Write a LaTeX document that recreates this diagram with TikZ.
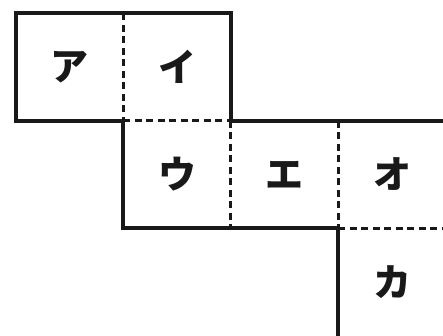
\documentclass[tikz,border=0pt]{standalone}
\usepackage{fontspec}
\newfontfamily\jp{Noto Sans CJK JP}
\usetikzlibrary{positioning}
\definecolor{ink}{RGB}{25,25,25}
\tikzset{
  cell/.style={minimum size=107.5pt,inner sep=0,outer sep=0,
    font=\jp\bfseries\fontsize{38}{38}\selectfont,text=ink},
  wall/.style={ink,line width=3.6pt,line join=miter},
  fold/.style={ink,line width=3pt,dash pattern=on 7pt off 4.5pt}}
\begin{document}
\begin{tikzpicture}[x=1pt,y=-1pt]
  \useasboundingbox[fill=white] (0,0) rectangle (443,335);
  % cells
  \node[cell] (a) at (69.5,67) {ア};
  \node[cell,right=0pt of a] (i) {イ};
  \node[cell,below=0pt of i] (u) {ウ};
  \node[cell,right=0pt of u] (e) {エ};
  \node[cell,right=0pt of e] (o) {オ};
  \node[cell,below=0pt of o] (ka) {カ};
  % outline
  \draw[wall] (u.north west) -- (a.south west) |- (i.north east) |- (o.north east);
  \draw[wall] (u.north west) |- (e.south east) -- (ka.south west);
  % fold lines
  \draw[fold] (a.north east) -- (a.south east);
  \draw[fold] (a.south east) -- (i.south east);
  \draw[fold] (u.north east) -- (u.south east);
  \draw[fold] (e.north east) -- (e.south east);
  \draw[fold] (o.south west) -- (o.south east);
\end{tikzpicture}
\end{document}
